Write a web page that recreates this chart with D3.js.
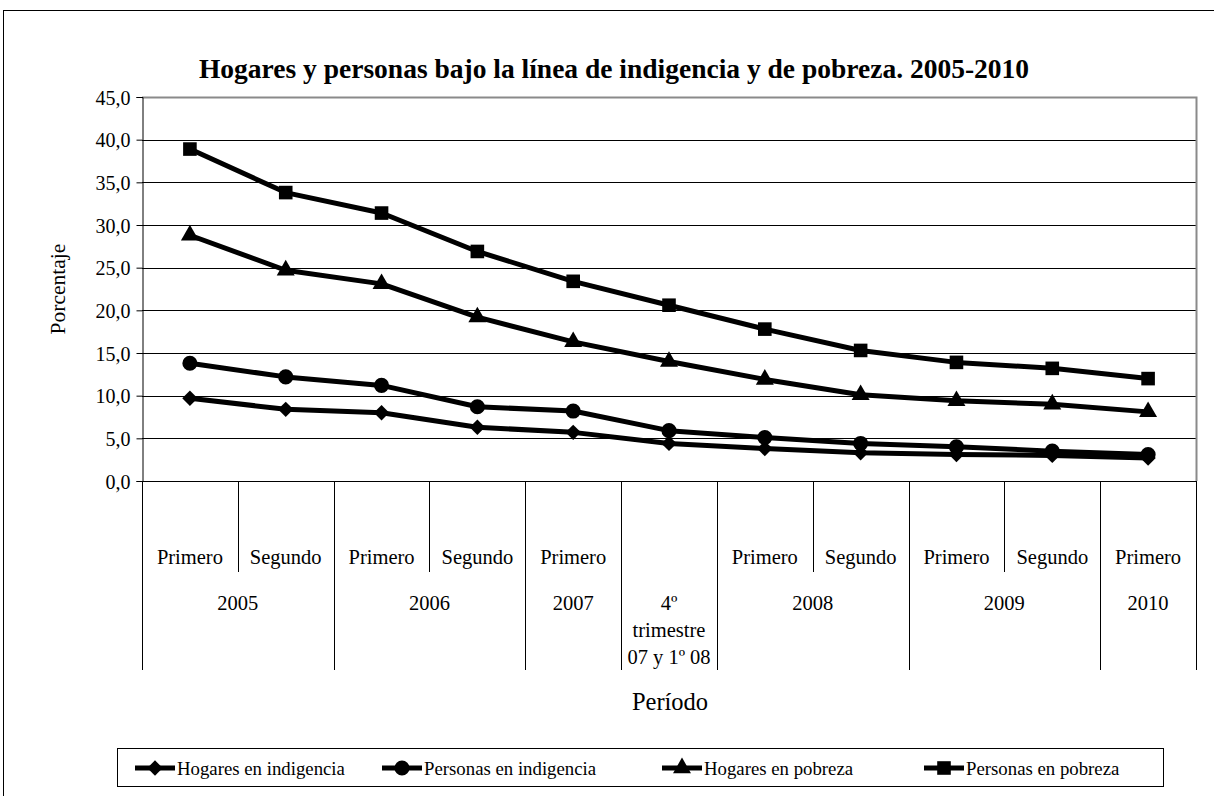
<!DOCTYPE html>
<html><head><meta charset="utf-8">
<script src="https://cdn.jsdelivr.net/npm/d3@7"></script>
<style>body{margin:0;background:#fff}</style>
</head><body><svg id="c" width="1214" height="796"></svg>
<script>
const periods = ["Primero","Segundo","Primero","Segundo","Primero","","Primero","Segundo","Primero","Segundo","Primero"];
const years = [
  {label:["2005"], start:0, end:1},
  {label:["2006"], start:2, end:3},
  {label:["2007"], start:4, end:4},
  {label:["4º","trimestre","07 y 1º 08"], start:5, end:5},
  {label:["2008"], start:6, end:7},
  {label:["2009"], start:8, end:9},
  {label:["2010"], start:10, end:10}
];
const hogaresIndigencia = [9.7,8.4,8.0,6.3,5.7,4.4,3.8,3.3,3.1,3.0,2.7];
const personasIndigencia = [13.8,12.2,11.2,8.7,8.2,5.9,5.1,4.4,4.0,3.5,3.1];
const hogaresPobreza = [28.8,24.7,23.1,19.2,16.3,14.0,11.9,10.1,9.4,9.0,8.1];
const personasPobreza = [38.9,33.8,31.4,26.9,23.4,20.6,17.8,15.3,13.9,13.2,12.0];
const yTicks = [0,5,10,15,20,25,30,35,40,45];
const seriesNames = ["Hogares en indigencia","Personas en indigencia","Hogares en pobreza","Personas en pobreza"];
const seriesData = [hogaresIndigencia, personasIndigencia, hogaresPobreza, personasPobreza];
const seriesSymbols = [d3.symbolDiamond2, d3.symbolCircle, d3.symbolTriangle, d3.symbolSquare];
const symbolSizes = [150,180,140,185];

const FONT = '"Liberation Serif"';
const svg = d3.select("#c");
const L=142, R=1196, T=97, B=481;
const x = d3.scaleBand().domain(d3.range(periods.length)).range([L,R]);
const y = d3.scaleLinear().domain([0,45]).range([B,T]);

function txt(sel, size){ return sel.style("font-family",FONT).style("font-size",size+"px").attr("fill","#000"); }

svg.append("rect").attr("x",3.5).attr("y",10.5).attr("width",1300).attr("height",900)
  .attr("fill","none").attr("stroke","#000").attr("stroke-width",1);

txt(svg.append("text").attr("x",614).attr("y",78).attr("text-anchor","middle"),27.5)
  .style("font-weight","bold")
  .text("Hogares y personas bajo la línea de indigencia y de pobreza. 2005-2010");

svg.append("g").selectAll("line").data(yTicks.filter(d=>d>0&&d<45)).join("line")
  .attr("x1",L).attr("x2",R).attr("y1",d=>Math.round(y(d))+0.5).attr("y2",d=>Math.round(y(d))+0.5)
  .attr("stroke","#000").attr("stroke-width",1);
svg.append("path").attr("d",`M${L},${T+0.5}H${R+0.5}V${B}`).attr("fill","none").attr("stroke","#8a8a8a").attr("stroke-width",2);

const ya = d3.axisLeft(y).tickValues(yTicks).tickSize(6).tickFormat(d=>d3.format(".1f")(d).replace(".",","));
const gy = svg.append("g").attr("transform",`translate(${L+0.5},0)`).call(ya);
gy.select(".domain").attr("stroke","#000");
gy.selectAll("line").attr("stroke","#000");
txt(gy.selectAll("text"),20).attr("x",-12).attr("dy","0.35em");

svg.append("line").attr("x1",L).attr("x2",R).attr("y1",B+0.5).attr("y2",B+0.5).attr("stroke","#000");

const table = svg.append("g");
const rowMid = 557, yearY = 603, shortBot = 572, longBot = 670;
periods.forEach((p,i)=>{
  if(p) txt(table.append("text").attr("x",x(i)+x.bandwidth()/2).attr("y",rowMid).attr("text-anchor","middle").attr("dy","0.35em"),20.5).text(p);
});
const longSep = new Set([0, periods.length]);
years.forEach(g=>{longSep.add(g.start); longSep.add(g.end+1);});
d3.range(periods.length+1).forEach(i=>{
  const xx = Math.round(i===periods.length? R : x(i))+0.5;
  table.append("line").attr("x1",xx).attr("x2",xx).attr("y1",B).attr("y2",longSep.has(i)?longBot:shortBot)
    .attr("stroke","#000").attr("stroke-width",1);
});
years.forEach(g=>{
  const cx = (x(g.start) + x(g.end)+x.bandwidth())/2;
  g.label.forEach((t,k)=>{
    txt(table.append("text").attr("x",cx).attr("y",yearY+k*27).attr("text-anchor","middle").attr("dy","0.35em"),20.5).text(t);
  });
});

txt(svg.append("text").attr("transform","translate(57,289) rotate(-90)").attr("text-anchor","middle").attr("dy","0.35em"),21.5).text("Porcentaje");
txt(svg.append("text").attr("x",670).attr("y",701).attr("text-anchor","middle").attr("dy","0.35em"),24.5).text("Período");

const line = d3.line().x((d,i)=>x(i)+x.bandwidth()/2).y(d=>y(d));
seriesData.forEach((s,si)=>{
  const g = svg.append("g");
  g.append("path").datum(s).attr("d",line).attr("fill","none").attr("stroke","#000").attr("stroke-width",5).attr("stroke-linejoin","round");
  g.selectAll("path.m").data(s).join("path").attr("class","m")
    .attr("d",d3.symbol().type(seriesSymbols[si]).size(symbolSizes[si]))
    .attr("transform",(d,i)=>`translate(${x(i)+x.bandwidth()/2},${y(d)})`).attr("fill","#000");
});

const lg = svg.append("g");
lg.append("rect").attr("x",117.5).attr("y",748.5).attr("width",1046).attr("height",38).attr("fill","#fff").attr("stroke","#000");
const legX = [135, 382, 662, 924];
seriesNames.forEach((n,i)=>{
  const g = lg.append("g").attr("transform",`translate(${legX[i]},768)`);
  g.append("line").attr("x1",0).attr("x2",40).attr("stroke","#000").attr("stroke-width",5);
  g.append("path").attr("d",d3.symbol().type(seriesSymbols[i]).size(symbolSizes[i])).attr("transform","translate(20,0)").attr("fill","#000");
  txt(g.append("text").attr("x",42).attr("dy","0.35em"),18.8).text(n);
});
</script></body></html>
